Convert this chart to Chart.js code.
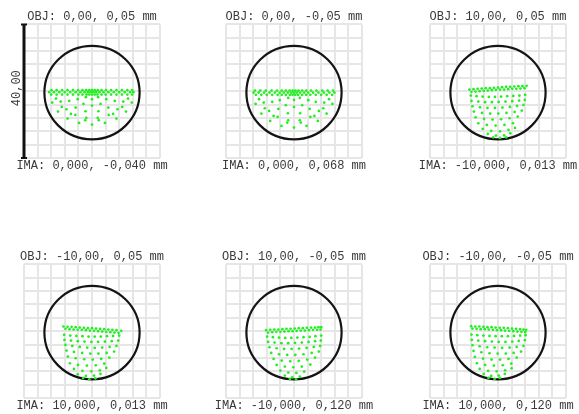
<!DOCTYPE html>
<html><head><meta charset="utf-8">
<script src="https://cdn.jsdelivr.net/npm/chart.js@4.4.0/dist/chart.umd.min.js"></script>
<style>
html,body{margin:0;padding:0;background:#fff;width:579px;height:414px;overflow:hidden;position:relative}
canvas{position:absolute}
</style></head><body>
<canvas id="c0" width="216" height="180" style="left:-16px;top:0px"></canvas>
<canvas id="c1" width="216" height="180" style="left:186px;top:0px"></canvas>
<canvas id="c2" width="216" height="180" style="left:390px;top:0px"></canvas>
<canvas id="c3" width="216" height="180" style="left:-16px;top:240px"></canvas>
<canvas id="c4" width="216" height="180" style="left:186px;top:240px"></canvas>
<canvas id="c5" width="216" height="180" style="left:390px;top:240px"></canvas>
<script>
// ---- data ----
const objLabels = ["OBJ: 0,00, 0,05 mm", "OBJ: 0,00, -0,05 mm", "OBJ: 10,00, 0,05 mm",
                   "OBJ: -10,00, 0,05 mm", "OBJ: 10,00, -0,05 mm", "OBJ: -10,00, -0,05 mm"];
const imaLabels = ["IMA: 0,000, -0,040 mm", "IMA: 0,000, 0,068 mm", "IMA: -10,000, 0,013 mm",
                   "IMA: 10,000, 0,013 mm", "IMA: -10,000, 0,120 mm", "IMA: 10,000, 0,120 mm"];
const axisRange = [-20, 20];
const gridStep = 4;
const airyRadius = 14.0;
const airyCenter = [0, -0.4];
const scaleBarLength = 40;
const scaleBarLabel = "40,00";

const spots1 = [
 [-12.6,-0.3],[-11.2,-0.3],[-9.6,-0.3],[-8,-0.3],[-6.4,-0.3],[-4.8,-0.3],[-3.4,-0.3],[-2.2,-0.3],[-1.2,-0.3],[-0.4,-0.3],
 [0.4,-0.3],[1.2,-0.3],[2.2,-0.3],[3.4,-0.3],[4.8,-0.3],[6.4,-0.3],[8,-0.3],[9.6,-0.3],[11.2,-0.3],[12.2,-0.3],
 [-11.9,0.3],[-10.4,0.3],[-8.8,0.3],[-7.2,0.3],[-5.6,0.3],[-4.1,0.3],[-2.8,0.3],[-1.7,0.3],[-0.8,0.3],[0,0.3],
 [0.8,0.3],[1.7,0.3],[2.8,0.3],[4.1,0.3],[5.6,0.3],[7.2,0.3],[8.8,0.3],[10.4,0.3],[11.8,0.3],
 [-12,-1.0],[-10.4,-1.0],[-8.8,-1.0],[-7.2,-1.0],[-5.6,-1.0],[-4,-1.0],[-2.8,-1.0],[-1.6,-1.0],[-0.8,-1.0],[0,-1.0],
 [0.8,-1.0],[1.6,-1.0],[2.8,-1.0],[4,-1.0],[5.6,-1.0],[7.2,-1.0],[8.8,-1.0],[10.4,-1.0],[11.8,-1.0],
 [-11.7,-3.4],[-10.0,-6.1],[-7.2,-8.2],[-3.8,-9.5],[0,-10.0],[3.8,-9.5],[7.2,-8.2],[10.0,-6.1],[11.7,-3.4],
 [-10.6,-2.2],[-8.9,-4.7],[-6.2,-6.8],[-2.0,-8.7],[2.0,-8.7],[6.2,-6.8],[8.9,-4.7],[10.6,-2.2],
 [-9.2,-3.1],[-7.5,-5.4],[-4.9,-7.1],[-1.7,-8.0],[1.7,-8.0],[4.9,-7.1],[7.5,-5.4],[9.2,-3.1],
 [-6.7,-2.9],[-4.8,-4.9],[-1.9,-6.0],[1.9,-6.0],[4.8,-4.9],[6.7,-2.9],
 [-4.2,-2.4],[-2.5,-3.8],[0,-4.3],[2.5,-3.8],[4.2,-2.4],
 [-1.8,-1.8],[0,-2.4],[1.8,-1.8]
];
const spots2 = [
 [-11.9,-0.4],[-10.4,-0.4],[-8.8,-0.4],[-7.2,-0.4],[-5.6,-0.4],[-4.2,-0.4],[-3,-0.4],[-1.8,-0.4],[-0.8,-0.4],[0,-0.4],
 [0.8,-0.4],[1.8,-0.4],[3,-0.4],[4.2,-0.4],[5.6,-0.4],[7.2,-0.4],[8.8,-0.4],[10.4,-0.4],[11.9,-0.4],
 [-11.5,0.2],[-9.9,0.2],[-8.3,0.2],[-6.6,0.2],[-5.0,0.2],[-3.6,0.2],[-2.4,0.2],[-1.3,0.2],[-0.4,0.2],
 [0.4,0.2],[1.3,0.2],[2.4,0.2],[3.6,0.2],[5.0,0.2],[6.6,0.2],[8.3,0.2],[9.9,0.2],[11.5,0.2],
 [-11.2,-1.1],[-9.6,-1.1],[-8,-1.1],[-6.4,-1.1],[-4.8,-1.1],[-3.6,-1.1],[-2.4,-1.1],[-1.2,-1.1],[-0.4,-1.1],
 [0.4,-1.1],[1.2,-1.1],[2.4,-1.1],[3.6,-1.1],[4.8,-1.1],[6.4,-1.1],[8,-1.1],[9.6,-1.1],[11.2,-1.1],
 [-11.3,-3.8],[-9.6,-6.7],[-7.0,-8.9],[-3.7,-10.4],[0,-10.9],[3.7,-10.4],[7.0,-8.9],[9.6,-6.7],[11.3,-3.8],
 [-10.3,-2.4],[-8.6,-5.1],[-6.0,-7.4],[-2.0,-9.4],[2.0,-9.4],[6.0,-7.4],[8.6,-5.1],[10.3,-2.4],
 [-8.9,-3.4],[-7.3,-5.9],[-4.8,-7.7],[-1.7,-8.7],[1.7,-8.7],[4.8,-7.7],[7.3,-5.9],[8.9,-3.4],
 [-6.4,-3.2],[-4.6,-5.3],[-1.8,-6.6],[1.8,-6.6],[4.6,-5.3],[6.4,-3.2],
 [-4.2,-2.7],[-2.4,-4.2],[0,-4.7],[2.4,-4.2],[4.2,-2.7],
 [-1.7,-2.0],[0,-2.6],[1.7,-2.0]
];
const spots3 = [
 [-8.4,0.5],[-7.2,0.6],[-6.0,0.7],[-4.8,0.8],[-3.6,0.9],[-2.4,0.9],[-1.2,1.0],[0,1.1],[1.2,1.2],[2.4,1.3],[3.6,1.3],[4.8,1.4],[6.0,1.5],[7.2,1.5],[8.4,1.6],
 [-7.8,-0.2],[-6.6,-0.1],[-5.4,0.0],[-4.2,0.1],[-3.0,0.2],[-1.8,0.3],[-0.6,0.4],[0.6,0.5],[1.8,0.5],[3.0,0.6],[4.2,0.7],[5.4,0.7],[6.6,0.8],[7.8,0.9],
 [-8.0,-1.3],[-6.3,-1.5],[-4.5,-1.6],[-2.7,-1.7],[-0.9,-1.7],[0.9,-1.6],[2.7,-1.5],[4.5,-1.4],[6.3,-1.3],[8.0,-1.1],
 [-7.8,-2.9],[-5.8,-3.1],[-3.8,-3.3],[-1.8,-3.3],[0.2,-3.2],[2.2,-3.1],[4.2,-3.0],[6.2,-2.8],[7.9,-2.6],
 [-7.5,-4.5],[-5.3,-4.8],[-3.1,-5.0],[-0.9,-5.0],[1.3,-4.9],[3.5,-4.7],[5.6,-4.4],[7.5,-4.1],
 [-7.1,-6.1],[-4.7,-6.5],[-2.3,-6.7],[0.1,-6.7],[2.5,-6.5],[4.9,-6.2],[7.0,-5.8],
 [-6.6,-7.8],[-4.1,-8.3],[-1.6,-8.5],[0.9,-8.4],[3.4,-8.1],[5.8,-7.6],
 [-5.8,-9.6],[-3.3,-10.1],[-0.7,-10.3],[1.9,-10.1],[4.4,-9.6],
 [-4.5,-11.3],[-2.0,-11.9],[0.6,-12.0],[3.1,-11.6],[5.0,-11.0],
 [-3.0,-12.8],[-0.6,-13.3],[1.8,-13.2],[3.6,-12.6],
 [-1.4,-13.8],[0.6,-14.0],[2.4,-13.8]
];
const spots4 = [
 [-8.4,1.4],[-7.2,1.3],[-6.0,1.3],[-4.8,1.2],[-3.6,1.1],[-2.4,1.0],[-1.2,0.9],[0,0.9],[1.2,0.8],[2.4,0.7],[3.6,0.6],[4.8,0.5],[6.0,0.4],[7.2,0.3],[8.6,0.1],
 [-7.8,0.7],[-6.6,0.6],[-5.4,0.5],[-4.2,0.4],[-3.0,0.4],[-1.8,0.3],[-0.6,0.2],[0.6,0.1],[1.8,0.0],[3.0,-0.1],[4.2,-0.2],[5.4,-0.3],[6.6,-0.4],[7.8,-0.5],
 [-8.2,-1.1],[-6.4,-1.3],[-4.6,-1.4],[-2.8,-1.5],[-1.0,-1.6],[0.8,-1.6],[2.6,-1.6],[4.4,-1.5],[6.2,-1.4],[8.0,-1.3],
 [-8.1,-2.6],[-6.2,-2.8],[-4.2,-3.0],[-2.2,-3.1],[-0.2,-3.2],[1.8,-3.2],[3.8,-3.1],[5.8,-3.0],[7.7,-2.8],
 [-7.8,-4.1],[-5.8,-4.4],[-3.6,-4.7],[-1.4,-4.9],[0.8,-5.0],[3.0,-4.9],[5.2,-4.7],[7.2,-4.4],
 [-7.5,-5.8],[-5.3,-6.2],[-2.9,-6.5],[-0.5,-6.7],[1.9,-6.7],[4.3,-6.5],[6.5,-6.1],
 [-7.1,-7.6],[-4.8,-8.1],[-2.3,-8.4],[0.2,-8.5],[2.7,-8.3],[5.1,-7.9],
 [-6.5,-9.6],[-4.1,-10.1],[-1.5,-10.3],[1.1,-10.2],[3.6,-9.7],
 [-5.3,-11.3],[-2.8,-11.9],[-0.2,-12.0],[2.3,-11.7],[4.2,-11.0],
 [-4.2,-12.9],[-1.8,-13.4],[0.6,-13.3],[2.5,-12.8],
 [-2.6,-14.0],[-0.8,-14.4],[1.0,-14.1]
];
const spots5 = [
 [-8.2,0.3],[-7.0,0.4],[-5.8,0.5],[-4.6,0.5],[-3.4,0.6],[-2.2,0.7],[-1.0,0.7],[0.2,0.8],[1.4,0.9],[2.6,0.9],[3.8,1.0],[5.0,1.1],[6.2,1.1],[7.2,1.2],[8.0,1.2],
 [-7.6,-0.4],[-6.4,-0.3],[-5.2,-0.2],[-4.0,-0.2],[-2.8,-0.1],[-1.6,0.0],[-0.4,0.0],[0.8,0.1],[2.0,0.2],[3.2,0.2],[4.4,0.3],[5.6,0.4],[6.8,0.4],[7.8,0.5],
 [-7.9,-1.6],[-6.2,-1.8],[-4.4,-1.9],[-2.6,-2.0],[-0.8,-2.0],[1.0,-1.9],[2.8,-1.8],[4.6,-1.7],[6.3,-1.5],[8.0,-1.3],
 [-7.6,-3.2],[-5.7,-3.4],[-3.7,-3.6],[-1.7,-3.6],[0.3,-3.5],[2.3,-3.4],[4.3,-3.2],[6.2,-3.0],[7.9,-2.8],
 [-7.2,-4.8],[-5.1,-5.1],[-2.9,-5.3],[-0.7,-5.3],[1.5,-5.2],[3.7,-5.0],[5.8,-4.7],[7.7,-4.4],
 [-6.7,-6.5],[-4.4,-6.9],[-2.0,-7.1],[0.4,-7.1],[2.8,-6.9],[5.2,-6.5],[7.3,-6.1],
 [-6.0,-8.3],[-3.6,-8.8],[-1.1,-9.0],[1.4,-8.9],[3.9,-8.5],[6.2,-7.9],
 [-5.1,-10.1],[-2.7,-10.6],[-0.2,-10.8],[2.3,-10.6],[4.8,-10.0],
 [-4.0,-11.8],[-1.7,-12.4],[0.7,-12.5],[3.0,-12.1],
 [-2.7,-13.3],[-0.5,-13.8],[1.7,-13.6],
 [-1.2,-14.3],[0.6,-14.4]
];
const spots6 = [
 [-7.9,1.5],[-6.7,1.4],[-5.5,1.4],[-4.3,1.3],[-3.1,1.2],[-1.9,1.2],[-0.7,1.1],[0.5,1.0],[1.7,1.0],[2.9,0.9],[4.1,0.8],[5.3,0.7],[6.5,0.6],[7.5,0.5],[8.3,0.4],
 [-7.5,0.8],[-6.3,0.7],[-5.1,0.6],[-3.9,0.6],[-2.7,0.5],[-1.5,0.4],[-0.3,0.3],[0.9,0.3],[2.1,0.2],[3.3,0.1],[4.5,0.0],[5.7,-0.1],[6.9,-0.2],[8.0,-0.3],
 [-7.8,-1.0],[-6.1,-1.2],[-4.3,-1.3],[-2.5,-1.4],[-0.7,-1.5],[1.1,-1.5],[2.9,-1.5],[4.7,-1.4],[6.5,-1.3],[8.1,-1.2],
 [-7.7,-2.6],[-5.8,-2.8],[-3.8,-3.0],[-1.8,-3.1],[0.2,-3.2],[2.2,-3.2],[4.2,-3.1],[6.1,-2.9],[7.9,-2.7],
 [-7.5,-4.2],[-5.4,-4.5],[-3.2,-4.8],[-1.0,-4.9],[1.2,-5.0],[3.4,-4.9],[5.5,-4.7],[7.5,-4.4],
 [-7.2,-5.9],[-4.9,-6.3],[-2.5,-6.6],[-0.1,-6.7],[2.3,-6.7],[4.6,-6.5],[6.8,-6.1],
 [-6.8,-7.7],[-4.4,-8.2],[-1.9,-8.5],[0.6,-8.5],[3.1,-8.3],[5.5,-7.9],
 [-6.2,-9.6],[-3.8,-10.1],[-1.2,-10.3],[1.4,-10.2],[3.9,-9.7],
 [-5.4,-11.3],[-2.9,-11.9],[-0.4,-12.0],[2.1,-11.7],[4.0,-11.1],
 [-4.2,-12.8],[-2.0,-13.4],[0.2,-13.3],[2.0,-12.8],
 [-2.8,-14.0],[-1.0,-14.3],[0.6,-14.0]
];
const allSpots = [spots1, spots2, spots3, spots4, spots5, spots6];

// ---- drawing ----
const FONT = "'Liberation Mono', 'DejaVu Sans Mono', monospace";
const TEXT = '#3a3a3a';

const airyPlugin = {
  id: 'airy',
  beforeDatasetsDraw(chart) {
    const {ctx, scales: {x, y}} = chart;
    const cx = x.getPixelForValue(airyCenter[0]);
    const cy = y.getPixelForValue(airyCenter[1]);
    const rx = Math.abs(x.getPixelForValue(airyCenter[0] + airyRadius) - cx);
    const ry = Math.abs(y.getPixelForValue(airyCenter[1] + airyRadius) - cy);
    ctx.save();
    ctx.beginPath();
    ctx.ellipse(cx, cy, rx, ry, 0, 0, Math.PI * 2);
    ctx.lineWidth = 2.2;
    ctx.strokeStyle = '#141414';
    ctx.stroke();
    ctx.restore();
  }
};
const scaleBarPlugin = {
  id: 'scalebar',
  afterDraw(chart, args, opts) {
    if (!opts || !opts.show) return;
    const {ctx, scales: {x, y}} = chart;
    const px = x.getPixelForValue(axisRange[0]);
    const top = y.getPixelForValue(axisRange[1]);
    const bot = y.getPixelForValue(axisRange[1] - scaleBarLength);
    ctx.save();
    ctx.strokeStyle = '#111';
    ctx.lineWidth = 3;
    ctx.beginPath();
    ctx.moveTo(px, top); ctx.lineTo(px, bot);
    ctx.stroke();
    ctx.lineWidth = 2;
    ctx.beginPath();
    ctx.moveTo(px - 3, top); ctx.lineTo(px + 3, top);
    ctx.moveTo(px - 3, bot); ctx.lineTo(px + 3, bot);
    ctx.stroke();
    ctx.translate(px - 7, (top + bot) / 2 - 3);
    ctx.rotate(-Math.PI / 2);
    ctx.font = "12px " + FONT;
    ctx.fillStyle = TEXT;
    ctx.textAlign = 'center';
    ctx.textBaseline = 'middle';
    ctx.fillText(scaleBarLabel, 0, 0);
    ctx.restore();
  }
};

function makeChart(i) {
  const gridOpts = {color: '#e6e6e6', lineWidth: 2, drawTicks: false};
  new Chart(document.getElementById('c' + i), {
    type: 'scatter',
    data: {datasets: [{
      data: allSpots[i].map(p => ({x: p[0], y: p[1]})),
      pointRadius: 1.35,
      pointBackgroundColor: '#22ee22',
      pointBorderWidth: 0,
      pointHoverRadius: 1.35
    }]},
    options: {
      responsive: false,
      animation: false,
      events: [],
      layout: {padding: {top: 0, bottom: 6.6, left: 0, right: 0}},
      scales: {
        x: {type: 'linear', min: axisRange[0], max: axisRange[1],
            ticks: {display: false, stepSize: gridStep}, grid: gridOpts, border: {display: false}},
        y: {type: 'linear', position: 'left', min: axisRange[0], max: axisRange[1],
            ticks: {display: false, stepSize: gridStep}, grid: gridOpts, border: {display: false},
            afterFit(s) { s.width = 40; }},
        y2: {type: 'linear', position: 'right', min: axisRange[0], max: axisRange[1],
            ticks: {display: false}, grid: {display: false, drawTicks: false}, border: {display: false},
            afterFit(s) { s.width = 40; }}
      },
      plugins: {
        legend: {display: false},
        tooltip: {enabled: false},
        title: {display: true, text: objLabels[i], color: TEXT,
                font: {family: FONT, size: 12, weight: 'normal'}, padding: {top: 10, bottom: 0}},
        subtitle: {display: true, text: imaLabels[i], position: 'bottom', color: TEXT,
                   font: {family: FONT, size: 12, weight: 'normal'}, padding: {top: 1, bottom: 0}},
        scalebar: {show: i === 0}
      }
    },
    plugins: [airyPlugin, scaleBarPlugin]
  });
}
for (let i = 0; i < 6; i++) makeChart(i);
</script>
</body></html>
